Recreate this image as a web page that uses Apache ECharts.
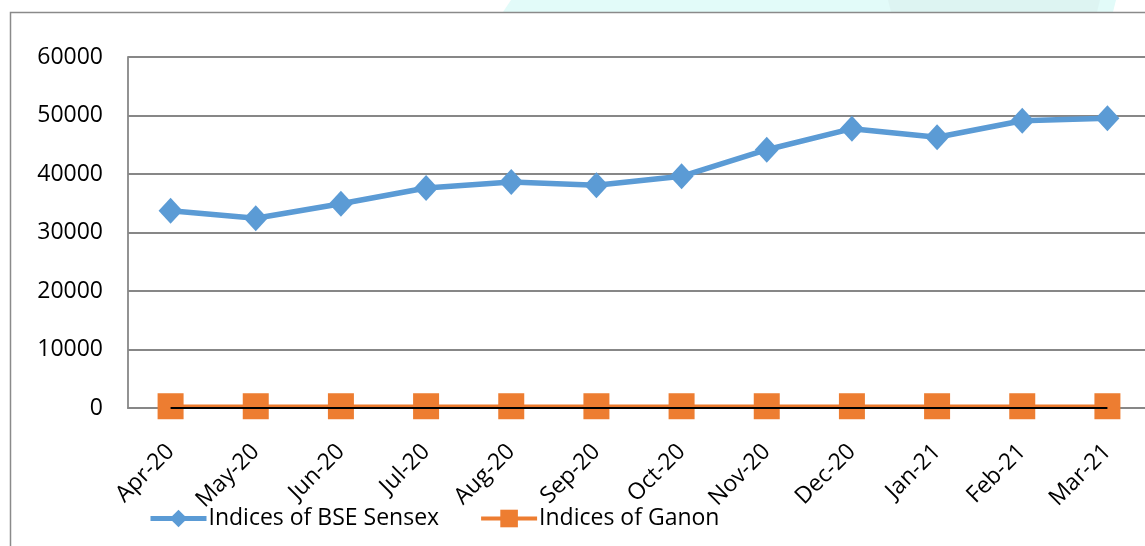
<!DOCTYPE html>
<html>
<head>
<meta charset="utf-8">
<script src="https://cdn.jsdelivr.net/npm/echarts@6/dist/echarts.min.js"></script>
<style>
html,body{margin:0;padding:0;background:#fff;}
#c{width:1145px;height:546px;}
</style>
</head>
<body>
<div id="c"></div>
<script>
const categories = ['Apr-20','May-20','Jun-20','Jul-20','Aug-20','Sep-20','Oct-20','Nov-20','Dec-20','Jan-21','Feb-21','Mar-21'];
const sensex = [33718, 32424, 34915, 37606, 38628, 38068, 39614, 44150, 47751, 46286, 49100, 49509];
const ganon = [300, 300, 300, 300, 300, 300, 300, 300, 300, 300, 300, 300];
const baseline = [0, 0, 0, 0, 0, 0, 0, 0, 0, 0, 0, 0];
const yTicks = [0, 10000, 20000, 30000, 40000, 50000, 60000];

const FONT = '"Open Sans", sans-serif';
const chart = echarts.init(document.getElementById('c'), null, {renderer: 'canvas'});
chart.setOption({
  animation: false,
  backgroundColor: '#ffffff',
  graphic: [
    {type: 'polygon', z: -10, shape: {points: [[511,0],[1116,0],[1113,12],[503,12]]}, style: {fill: '#e2fbf9'}},
    {type: 'polygon', z: -9, shape: {points: [[888,0],[1100,0],[1097,12],[891,12]]}, style: {fill: '#ddf4f2'}},
    {type: 'rect', z: -5, shape: {x: 10.5, y: 12.5, width: 1200, height: 600}, style: {fill: null, stroke: '#8a8a8a', lineWidth: 1.5}}
  ],
  grid: {left: 128, top: 57, height: 351, width: 1022, containLabel: false, outerBoundsMode: 'none'},
  legend: {
    left: 143, top: 502,
    itemWidth: 56, itemHeight: 22, itemGap: 40,
    data: [
      {name: 'Indices of BSE Sensex', itemStyle: {color: '#5b9bd5'}, lineStyle: {color: '#5b9bd5', width: 5}},
      {name: 'Indices of Ganon', itemStyle: {color: '#ed7d31'}, lineStyle: {color: '#ed7d31', width: 4}}
    ],
    textStyle: {fontFamily: FONT, fontSize: 23, color: '#000', padding: [0,0,0,-3]}
  },
  xAxis: {
    type: 'category',
    data: categories,
    boundaryGap: true,
    axisLine: {show: true, lineStyle: {color: '#878787', width: 1.8}},
    axisTick: {show: false},
    axisLabel: {rotate: 45, margin: 40, interval: 0, fontFamily: FONT, fontSize: 23, color: '#000'}
  },
  yAxis: {
    type: 'value',
    min: yTicks[0], max: yTicks[yTicks.length - 1], interval: 10000,
    axisLine: {show: true, lineStyle: {color: '#878787', width: 1.8}},
    axisTick: {show: false},
    splitLine: {show: true, lineStyle: {color: '#878787', width: 1.8}},
    axisLabel: {margin: 25, fontFamily: FONT, fontSize: 23, color: '#000', formatter: function (v) { return String(v); }}
  },
  series: [
    {
      name: 'Indices of BSE Sensex', type: 'line', data: sensex,
      symbol: 'diamond', symbolSize: [24, 26],
      lineStyle: {color: '#5b9bd5', width: 5.5},
      itemStyle: {color: '#5b9bd5'},
      z: 3
    },
    {
      name: 'Indices of Ganon', type: 'line', data: ganon,
      symbol: 'rect', symbolSize: 26,
      lineStyle: {color: '#ed7d31', width: 3.5},
      itemStyle: {color: '#ed7d31'},
      z: 2
    },
    {
      name: 'baseline', type: 'line', data: baseline,
      symbol: 'none', silent: true,
      lineStyle: {color: '#000', width: 1.8},
      z: 4
    }
  ]
});
</script>
</body>
</html>
